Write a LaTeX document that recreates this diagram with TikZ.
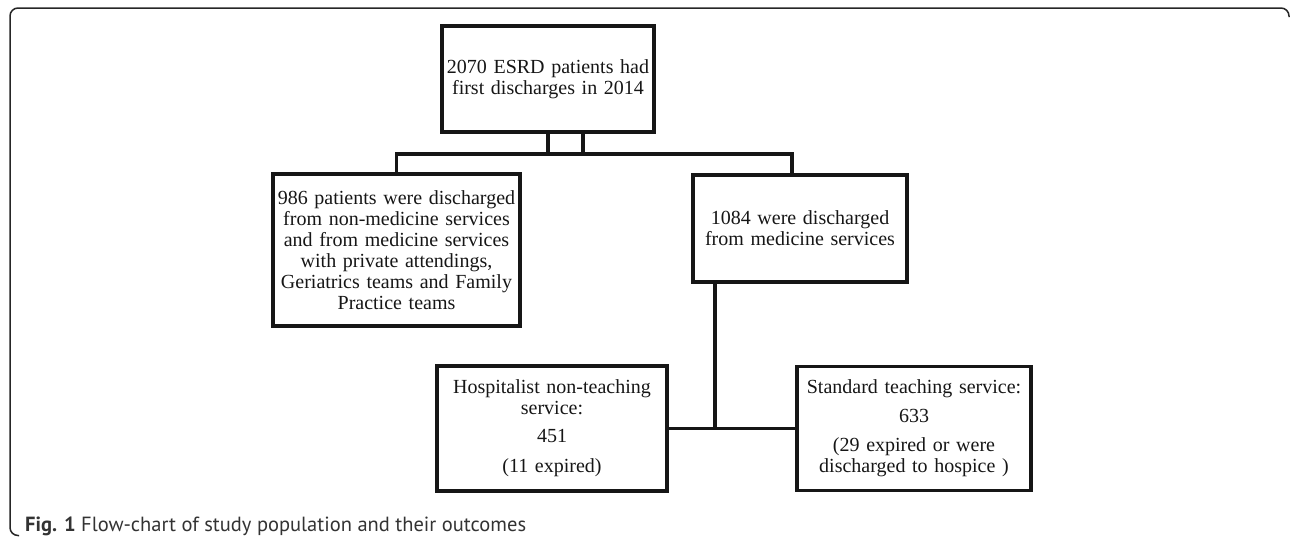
\documentclass[tikz,border=0pt]{standalone}
\usepackage{fontspec}
\setmainfont{Liberation Serif}
\newfontfamily\capfont{PT Sans}
\definecolor{ink}{HTML}{161616}
\definecolor{capgray}{HTML}{333333}
\tikzset{
  flowbox/.style={draw=ink, line width=3.4pt, rectangle, inner sep=0pt, align=center,
    text=ink, font=\fontsize{20}{21}\selectfont},
  link/.style={draw=ink, line width=3.2pt},
  frameline/.style={draw=black!85, line width=1.5pt, rounded corners=8pt}
}
\begin{document}
\begin{tikzpicture}[x=1pt,y=-1pt]
\useasboundingbox (0,0) rectangle (1292,538);
\draw[frameline] (1289,17) -- (1289,8) -- (10,8) -- (10,535.5) -- (19,535.5);

\node[flowbox, text width=212pt, minimum height=106pt] (top) at (548,79)
  {2070 ESRD patients had\\first discharges in 2014};
\node[flowbox, text width=247pt, minimum height=152pt] (left) at (396.5,250)
  {986 patients were discharged\\from non-medicine services\\and from medicine services\\with private attendings,\\Geriatrics teams and Family\\Practice teams};
\node[flowbox, text width=214pt, minimum height=107pt] (right) at (800,228.5)
  {1084 were discharged\\from medicine services};
\node[flowbox, text width=230pt, minimum height=125pt] (hosp) at (552,428.5)
  {Hospitalist non-teaching\\service:\\[7pt]451\\[9pt](11 expired)};
\node[flowbox, text width=234pt, minimum height=124pt] (std) at (914,428.5)
  {Standard teaching service:\\[8pt]633\\[8pt](29 expired or were\\discharged to hospice )};

\coordinate (busA) at (548,154);
\coordinate (busB) at (583,154);
\coordinate (busR) at (792,154);
\coordinate (mid) at (715,428.5);

\draw[link] (top.south -| busA) -- (busA);
\draw[link] (top.south -| busB) -- (busB);
\draw[link] (left.north) |- (busR) -- (busR |- right.north);
\draw[link] (right.south -| mid) -- (mid);
\draw[link] (hosp.east) -- (std.west);

\node[anchor=base west, inner sep=0pt, text=capgray, font=\capfont\fontsize{20.5}{22}\selectfont] (cap) at (25,531)
  {\textbf{Fig. 1} Flow-chart of study population and their outcomes};
\end{tikzpicture}
\end{document}
